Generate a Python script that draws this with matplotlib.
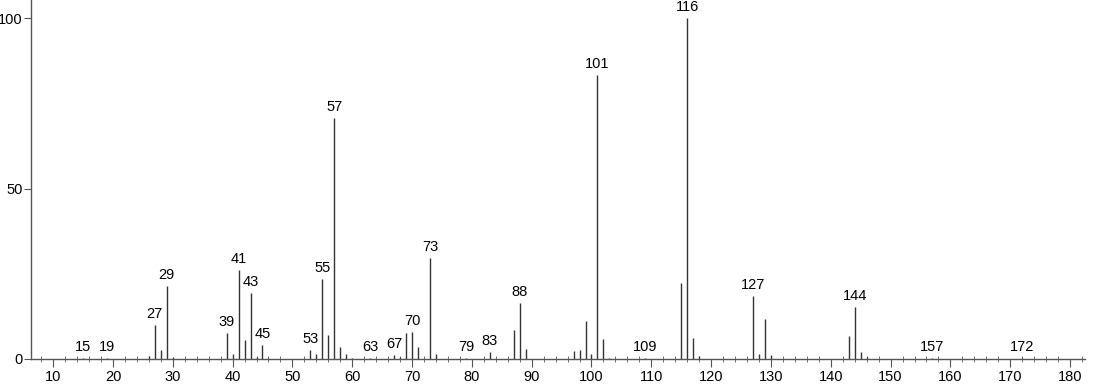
import matplotlib
matplotlib.use("Agg")
import matplotlib.pyplot as plt
from matplotlib.ticker import MultipleLocator

plt.rcParams['font.family'] = ['Liberation Sans', 'DejaVu Sans']

# m/z and relative intensity
mz = [15, 19, 26, 27, 28, 29, 30, 39, 40, 41, 42, 43, 44, 45, 46,
      53, 54, 55, 56, 57, 58, 59, 60, 63, 67, 68, 69, 70, 71, 73, 74,
      79, 83, 87, 88, 89, 97, 98, 99, 100, 101, 102, 103, 109,
      115, 116, 117, 118, 127, 128, 129, 130, 143, 144, 145, 146, 157, 172]
intensity = [0.3, 0.3, 0.8, 10.0, 2.6, 21.4, 0.6, 7.6, 1.5, 26.0, 5.6, 19.4, 0.6, 4.1, 0.4,
             2.6, 1.4, 23.4, 7.0, 70.7, 3.4, 1.5, 0.4, 0.3, 1.1, 0.6, 7.5, 7.8, 3.4, 29.6, 1.4,
             0.3, 2.0, 8.5, 16.4, 2.9, 2.4, 2.6, 11.1, 1.4, 83.3, 5.8, 0.4, 0.3,
             22.2, 100.0, 6.3, 0.8, 18.4, 1.4, 11.7, 1.1, 6.7, 15.3, 2.1, 0.5, 0.3, 0.3]
labeled = [15, 19, 27, 29, 39, 41, 43, 45, 53, 55, 57, 63, 67, 70, 73,
           79, 83, 88, 101, 109, 116, 127, 144, 157, 172]

fig = plt.figure(figsize=(10.94, 3.84), dpi=100)
ax = fig.add_axes([31 / 1094, 25 / 384, 1054 / 1094, 359 / 384])

ax.vlines(mz, 0, intensity, color="#333333", linewidth=1.0)
for m, v in zip(mz, intensity):
    if m in labeled:
        ax.annotate(str(m), (m, v), xytext=(0, 3), textcoords="offset points",
                    ha="center", va="bottom", fontsize=10.5)

ax.set_xlim(6.3, 182.5)
ax.set_ylim(0, 105.3)
ax.spines["top"].set_visible(False)
ax.spines["right"].set_visible(False)
for s in ["left", "bottom"]:
    ax.spines[s].set_color("#555555")
    ax.spines[s].set_linewidth(1.0)

ax.xaxis.set_major_locator(MultipleLocator(10))
ax.xaxis.set_minor_locator(MultipleLocator(2))
ax.set_yticks([0, 50, 100])
ax.tick_params(axis="x", which="major", direction="out", length=6, color="#555555", labelsize=10.5, pad=2)
ax.tick_params(axis="x", which="minor", direction="inout", length=4, color="#555555")
ax.tick_params(axis="y", direction="out", length=5, color="#555555", labelsize=10.5, pad=1)

fig.savefig("out.png", dpi=100)
